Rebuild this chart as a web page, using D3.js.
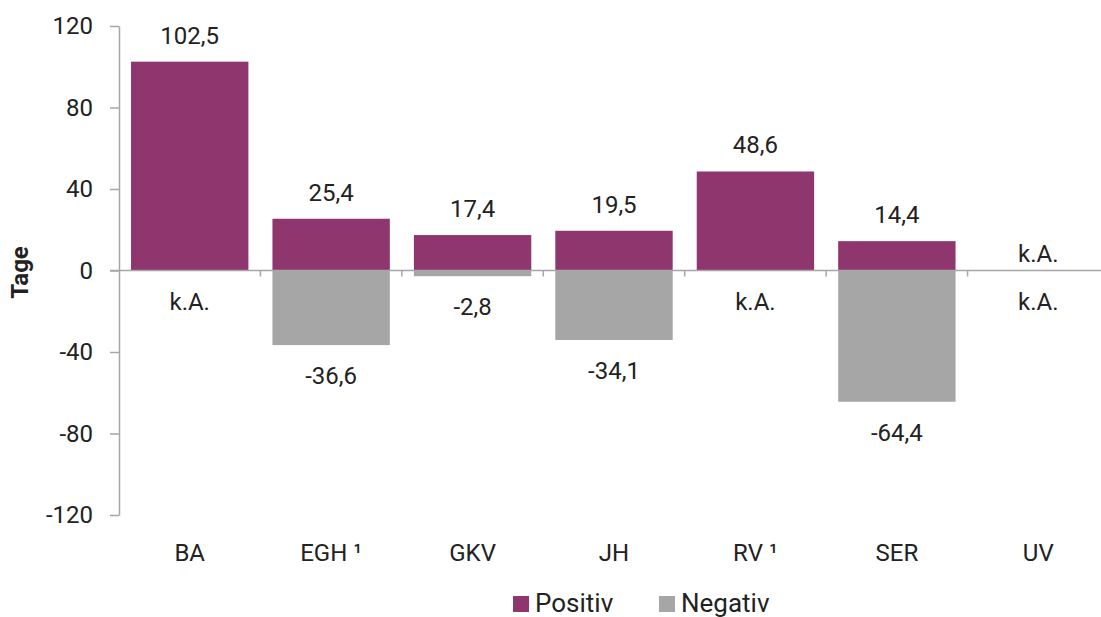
<!DOCTYPE html>
<html>
<head>
<meta charset="utf-8">
<script src="https://cdn.jsdelivr.net/npm/d3@7"></script>
<style>
  body { margin: 0; background: #fff; }
  text { font-family: Roboto, "Noto Sans", sans-serif; fill: #222; }
</style>
</head>
<body>
<div id="chart"></div>
<script>
var categories = ["BA", "EGH \u00b9", "GKV", "JH", "RV \u00b9", "SER", "UV"];
var positiv = [102.5, 25.4, 17.4, 19.5, 48.6, 14.4, null];
var negativ = [null, -36.6, -2.8, -34.1, null, -64.4, null];
var yTicks = [-120, -80, -40, 0, 40, 80, 120];
var seriesNames = ["Positiv", "Negativ"];
var colors = ["#8f366f", "#a6a6a6"];

var width = 1101, height = 617;
var plot = { left: 119, right: 1109, top: 26, bottom: 515 };

var de = d3.formatLocale({ decimal: ",", thousands: ".", grouping: [3], currency: ["", " €"], minus: "-" });
var fmt = de.format(".1f");
var fmtTick = de.format("d");

var svg = d3.select("#chart")
    .append("svg")
    .attr("width", width)
    .attr("height", height);

var x = d3.scaleBand()
    .domain(categories)
    .range([plot.left, plot.right])
    .paddingInner(0.17)
    .paddingOuter(0.085);

var band = d3.scaleBand()
    .domain(categories)
    .range([plot.left, plot.right]);

var y = d3.scaleLinear()
    .domain([-120, 120])
    .range([plot.bottom, plot.top]);

// bars
var rows = categories.map(function(c, i) { return { cat: c, pos: positiv[i], neg: negativ[i] }; });

svg.append("g").selectAll("rect")
    .data(rows.filter(function(d) { return d.pos != null; }))
    .enter().append("rect")
    .attr("x", function(d) { return x(d.cat); })
    .attr("width", x.bandwidth())
    .attr("y", function(d) { return y(d.pos); })
    .attr("height", function(d) { return y(0) - y(d.pos); })
    .attr("fill", colors[0]);

svg.append("g").selectAll("rect")
    .data(rows.filter(function(d) { return d.neg != null; }))
    .enter().append("rect")
    .attr("x", function(d) { return x(d.cat); })
    .attr("width", x.bandwidth())
    .attr("y", y(0))
    .attr("height", function(d) { return y(d.neg) - y(0); })
    .attr("fill", colors[1]);

// y axis
var yAxis = svg.append("g")
    .attr("transform", "translate(" + plot.left + ",0)")
    .call(d3.axisLeft(y).tickValues(yTicks).tickFormat(fmtTick).tickSize(9).tickPadding(17).tickSizeOuter(0));
yAxis.select(".domain").attr("stroke", "#a6a6a6").attr("stroke-width", 1.5);
yAxis.selectAll(".tick line").attr("stroke", "#a6a6a6").attr("stroke-width", 1.5);
yAxis.selectAll(".tick text").style("font-size", "24px").attr("fill", "#222");

// x axis line at zero with boundary ticks
var xAxis = svg.append("g")
    .attr("transform", "translate(0," + y(0) + ")");
xAxis.append("line")
    .attr("x1", plot.left - 9).attr("x2", plot.right - 8)
    .attr("stroke", "#a6a6a6").attr("stroke-width", 1.5);
xAxis.selectAll("line.b")
    .data(categories.slice(1))
    .enter().append("line")
    .attr("x1", function(d) { return band(d); })
    .attr("x2", function(d) { return band(d); })
    .attr("y1", 0).attr("y2", 6)
    .attr("stroke", "#a6a6a6").attr("stroke-width", 1.5);

// category labels
svg.append("g").selectAll("text")
    .data(categories)
    .enter().append("text")
    .attr("x", function(d) { return band(d) + band.bandwidth() / 2; })
    .attr("y", 561)
    .attr("text-anchor", "middle")
    .style("font-size", "24px")
    .text(function(d) { return d; });

// value labels (k.A. = keine Angabe)
svg.append("g").selectAll("text")
    .data(rows)
    .enter().append("text")
    .attr("x", function(d) { return x(d.cat) + x.bandwidth() / 2; })
    .attr("y", function(d) { return d.pos != null ? y(d.pos) - 18 : y(0) - 9; })
    .attr("text-anchor", "middle")
    .style("font-size", "24px")
    .text(function(d) { return d.pos != null ? fmt(d.pos) : "k.A."; });

svg.append("g").selectAll("text")
    .data(rows)
    .enter().append("text")
    .attr("x", function(d) { return x(d.cat) + x.bandwidth() / 2; })
    .attr("y", function(d) { return (d.neg != null ? y(d.neg) : y(0)) + 39; })
    .attr("text-anchor", "middle")
    .style("font-size", "24px")
    .text(function(d) { return d.neg != null ? fmt(d.neg) : "k.A."; });

// y title
svg.append("text")
    .attr("transform", "translate(28," + (y(0) + 2) + ") rotate(-90)")
    .attr("text-anchor", "middle")
    .style("font-size", "24px")
    .style("font-weight", "bold")
    .text("Tage");

// legend
var legend = svg.append("g");
var lx = [513, 659];
seriesNames.forEach(function(name, i) {
    legend.append("rect")
        .attr("x", lx[i]).attr("y", 596)
        .attr("width", 16).attr("height", 16)
        .attr("fill", colors[i]);
    legend.append("text")
        .attr("x", lx[i] + 22).attr("y", 612)
        .style("font-size", "26px")
        .text(name);
});
</script>
</body>
</html>
